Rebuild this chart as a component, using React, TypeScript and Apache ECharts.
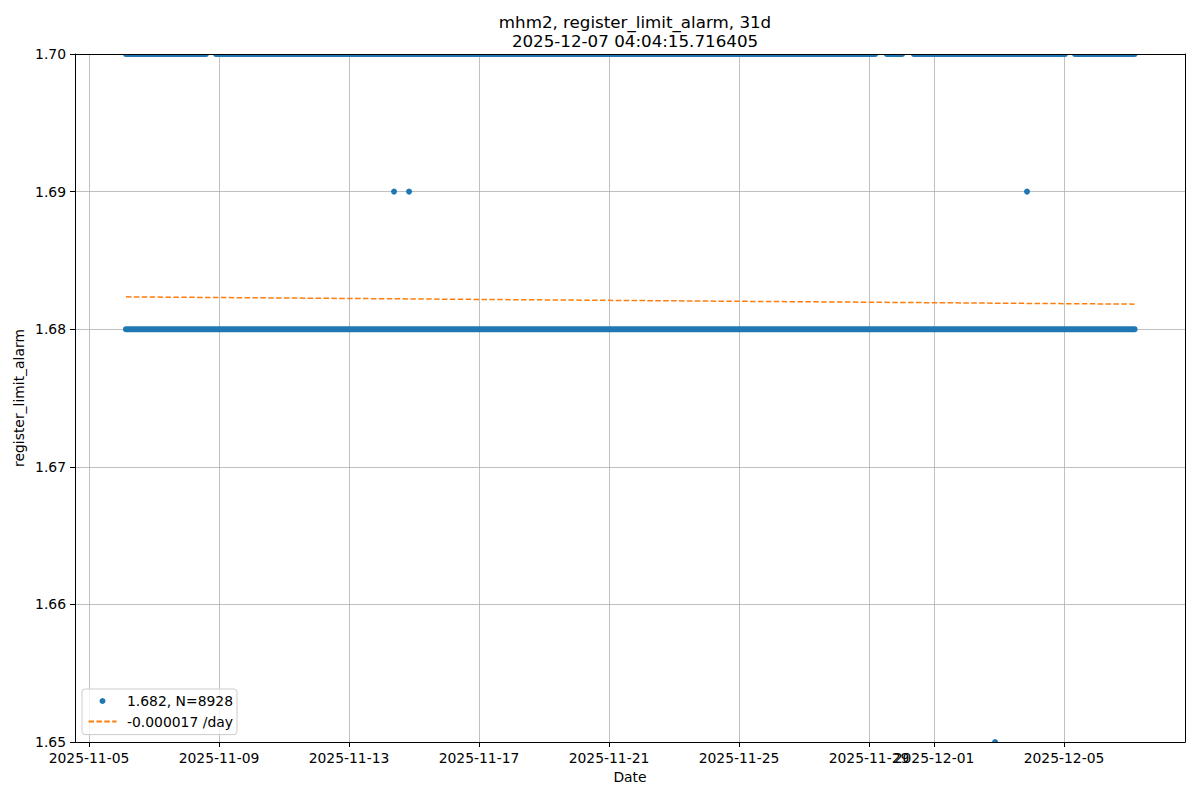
import React, { useEffect, useRef } from "react";
import * as echarts from "echarts";

// ---- data ----
const xMin = "2025-11-04T13:40";
const xMax = "2025-12-08T17:20";
const tickDates = [
  "2025-11-05", "2025-11-09", "2025-11-13", "2025-11-17", "2025-11-21",
  "2025-11-25", "2025-11-29", "2025-12-01", "2025-12-05",
];
const yTicks = [1.65, 1.66, 1.67, 1.68, 1.69, 1.7];

// runs of consecutive 5-minute samples, [start, end]
const lowLevel = 1.68;
const lowRuns: [string, string][] = [["2025-11-06T03:20", "2025-12-07T04:04"]];
const highLevel = 1.7;
const highRuns: [string, string][] = [
  ["2025-11-06T03:20", "2025-11-08T14:20"],
  ["2025-11-08T21:50", "2025-11-29T04:30"],
  ["2025-11-29T13:10", "2025-11-30T00:20"],
  ["2025-11-30T09:10", "2025-12-05T00:40"],
  ["2025-12-05T08:10", "2025-12-07T04:04"],
];
// isolated samples
const outlierTimes = ["2025-11-14T09:15", "2025-11-14T20:20", "2025-12-03T20:40", "2025-12-02T21:05"];
const outlierValues = [1.69, 1.69, 1.69, 1.65];

const trendTimes = ["2025-11-06T03:20", "2025-12-07T04:04"];
const trendValues = [1.68235, 1.68182];

const seriesName = "1.682, N=8928";
const trendName = "-0.000017 /day";
const titleText = "mhm2, register_limit_alarm, 31d\n2025-12-07 04:04:15.716405";

// ---- helpers ----
const t = (s: string) => Date.parse((s.length === 10 ? s + "T00:00" : s) + ":00Z");
const pad = (n: number) => String(n).padStart(2, "0");
const fmtDate = (v: number) => {
  const d = new Date(v);
  return `${d.getUTCFullYear()}-${pad(d.getUTCMonth() + 1)}-${pad(d.getUTCDate())}`;
};

function buildSampleData(): number[][] {
  const out: number[][] = [];
  lowRuns.forEach(([a, b]) => out.push([t(a), t(b), lowLevel]));
  highRuns.forEach(([a, b]) => out.push([t(a), t(b), highLevel]));
  outlierTimes.forEach((s, i) => out.push([t(s), t(s), outlierValues[i]]));
  return out;
}

const FONT = "DejaVu Sans";
const FS = 13.9;
const BLUE = "#1f77b4";
const ORANGE = "#ff7f0e";

export default function App() {
  const ref = useRef<HTMLDivElement>(null);
  useEffect(() => {
    if (!ref.current) return;
    const chart = echarts.init(ref.current, null, { renderer: "svg" });
    const ticks = tickDates.map(t);
    const option: any = {
      animation: false,
      textStyle: { fontFamily: FONT },
      title: {
        text: titleText,
        left: 630,
        top: 7,
        textAlign: "center",
        textStyle: { fontFamily: FONT, fontSize: 16.7, fontWeight: "normal", color: "#000", lineHeight: 19 },
      },
      grid: { left: 75, right: 15, top: 54, bottom: 58, containLabel: false },
      legend: {
        show: true,
        orient: "vertical",
        left: 82,
        top: 689,
        data: [
          { name: seriesName, icon: "circle" },
          { name: trendName, itemStyle: { opacity: 0, color: "rgba(0,0,0,0)", borderWidth: 0 } },
        ],
        itemWidth: 28,
        itemHeight: 6,
        itemGap: 4.6,
        padding: [4, 4, 5, 5.5],
        borderColor: "#cccccc",
        borderWidth: 1,
        borderRadius: 3,
        backgroundColor: "rgba(255,255,255,0.8)",
        textStyle: { fontFamily: FONT, fontSize: FS, color: "#000", lineHeight: 16, padding: [0, 0, 0, 5.5] },
      },
      xAxis: [
        {
          type: "value",
          min: t(xMin),
          max: t(xMax),
          position: "bottom",
          axisLine: { show: true, onZero: false, lineStyle: { color: "#000", width: 1 } },
          axisTick: { show: true, length: 5, lineStyle: { color: "#000" }, customValues: ticks },
          axisLabel: {
            customValues: ticks,
            formatter: (v: number) => fmtDate(v),
            fontFamily: FONT,
            fontSize: FS,
            color: "#000",
            margin: 9,
            hideOverlap: false,
          },
          splitLine: { show: true, lineStyle: { color: "#b0b0b0", width: 0.8 } },
          name: "Date",
          nameLocation: "middle",
          nameGap: 28,
          nameTextStyle: { fontFamily: FONT, fontSize: FS, color: "#000" },
        },
        {
          type: "value",
          min: 0,
          max: 1,
          position: "top",
          z: 5,
          axisLine: { show: true, onZero: false, lineStyle: { color: "#000", width: 1 } },
          axisTick: { show: false },
          axisLabel: { show: false },
          splitLine: { show: false },
        },
      ],
      yAxis: [
        {
          type: "value",
          min: yTicks[0],
          max: yTicks[yTicks.length - 1],
          interval: 0.01,
          axisLine: { show: true, onZero: false, lineStyle: { color: "#000", width: 1 } },
          axisTick: { show: true, length: 5, lineStyle: { color: "#000" } },
          axisLabel: {
            formatter: (v: number) => v.toFixed(2),
            fontFamily: FONT,
            fontSize: FS,
            color: "#000",
            margin: 9,
          },
          splitLine: { show: true, lineStyle: { color: "#b0b0b0", width: 0.8 } },
          name: "register_limit_alarm",
          nameLocation: "middle",
          nameGap: 49,
          nameMoveOverlap: false,
          nameRotate: 90,
          nameTextStyle: { fontFamily: FONT, fontSize: FS, color: "#000" },
        },
        {
          type: "value",
          min: 0,
          max: 1,
          position: "right",
          z: 5,
          axisLine: { show: true, onZero: false, lineStyle: { color: "#000", width: 1 } },
          axisTick: { show: false },
          axisLabel: { show: false },
          splitLine: { show: false },
        },
      ],
      series: [
        {
          name: seriesName,
          type: "custom",
          xAxisIndex: 0,
          yAxisIndex: 0,
          data: buildSampleData(),
          encode: { x: [0, 1], y: 2 },
          clip: true,
          color: BLUE,
          itemStyle: { color: BLUE },
          z: 2,
          renderItem: (params: any, api: any) => {
            const a = api.coord([api.value(0), api.value(2)]);
            const b = api.coord([api.value(1), api.value(2)]);
            if (b[0] - a[0] < 1) {
              return { type: "circle", shape: { cx: a[0], cy: a[1], r: 3 }, style: { fill: BLUE } };
            }
            return {
              type: "line",
              shape: { x1: a[0], y1: a[1], x2: b[0], y2: b[1] },
              style: { stroke: BLUE, lineWidth: 6, lineCap: "round", fill: null },
            };
          },
        },
        {
          name: trendName,
          type: "line",
          xAxisIndex: 0,
          yAxisIndex: 0,
          data: trendTimes.map((s, i) => [t(s), trendValues[i]]),
          symbol: "none",
          showSymbol: false,
          color: ORANGE,
          itemStyle: { color: ORANGE },
          lineStyle: { color: ORANGE, width: 1.5, type: [5.5, 2.4] },
          z: 3,
        },
      ],
    };
    chart.setOption(option);
    return () => chart.dispose();
  }, []);
  return (
    <div
      ref={ref}
      style={{ position: "absolute", left: 0, top: 0, width: 1200, height: 800, background: "#fff" }}
    />
  );
}
